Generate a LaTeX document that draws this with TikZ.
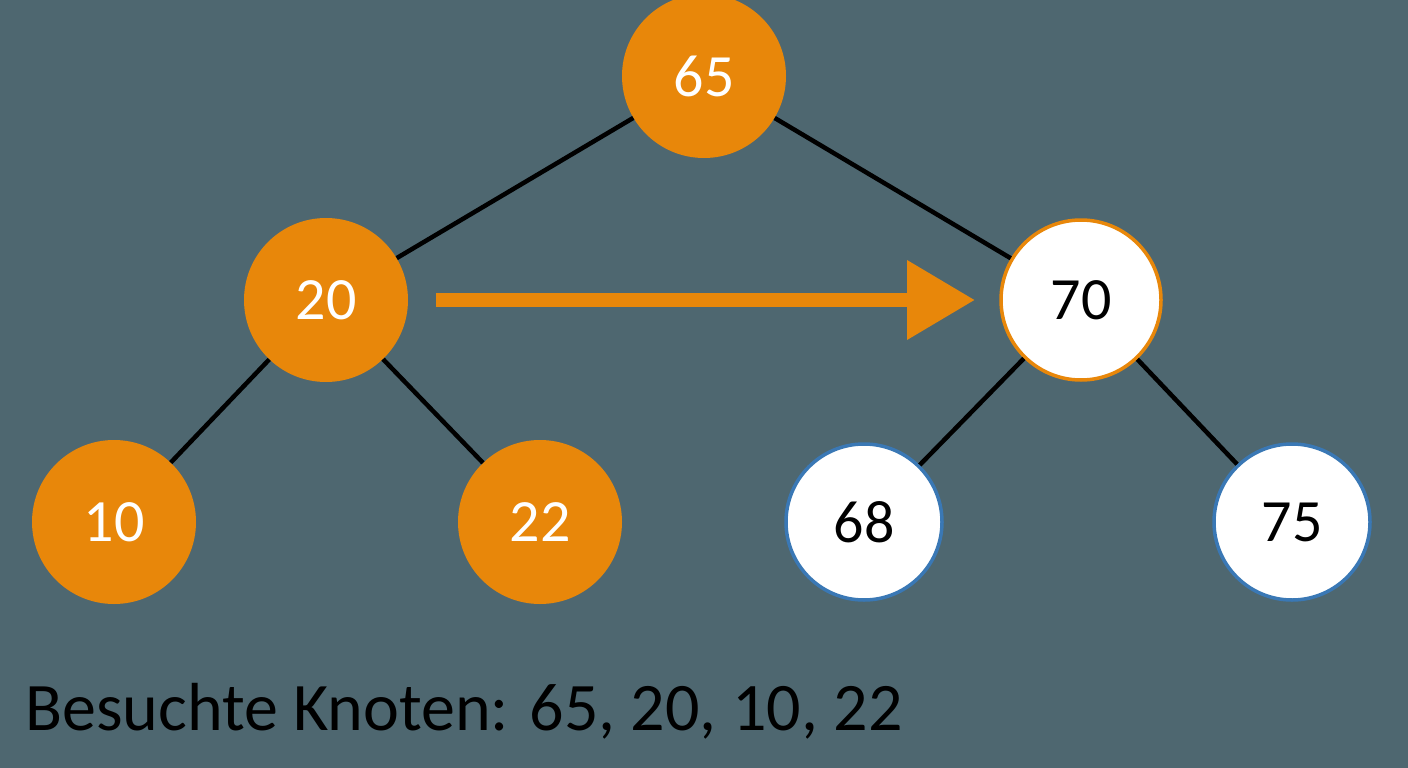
\documentclass[tikz,border=0pt]{standalone}
\usepackage{fontspec}
\setmainfont{Carlito}
\usetikzlibrary{arrows.meta}
\definecolor{bg}{HTML}{4E6770}
\definecolor{org}{HTML}{E8870A}
\definecolor{blu}{HTML}{3A78B5}
\begin{document}
\begin{tikzpicture}[x=1pt,y=-1pt,
  on/.style={circle,fill=org,minimum size=164pt,inner sep=0pt,text=white,font=\fontsize{60}{60}\selectfont},
  wo/.style={circle,fill=white,draw=org,line width=3.5pt,minimum size=160pt,inner sep=0pt,text=black,font=\fontsize{60}{60}\selectfont},
  wb/.style={circle,fill=white,draw=blu,line width=3.5pt,minimum size=156pt,inner sep=0pt,text=black,font=\fontsize{60}{60}\selectfont},
  edge/.style={line width=4.5pt,black}]
\fill[bg] (0,0) rectangle (1408,768);
\useasboundingbox (0,0) rectangle (1408,768);
\node[on] (n65) at (704,76) {65};
\node[on] (n20) at (326,300) {20};
\node[wo] (n70) at (1081,300) {70};
\node[on] (n10) at (114,522) {10};
\node[on] (n22) at (540,522) {22};
\node[wb] (n68) at (864,522) {68};
\node[wb] (n75) at (1292,522) {75};
\begin{scope}[on background layer/.style={}]
\end{scope}
\draw[edge] (n65) -- (n20);
\draw[edge] (n65) -- (n70);
\draw[edge] (n20) -- (n10);
\draw[edge] (n20) -- (n22);
\draw[edge] (n70) -- (n68);
\draw[edge] (n70) -- (n75);
\coordinate (as) at (436,300);
\coordinate (ae) at (975,300);
\draw[org,line width=14pt,-{Triangle[length=68pt,width=76pt]}] (as) -- (ae);
\node[anchor=base west,font=\fontsize{68}{68}\selectfont,text=black,inner sep=0pt] (lab) at (25,730) {Besuchte Knoten: 65, 20, 10, 22};
\end{tikzpicture}
\end{document}
